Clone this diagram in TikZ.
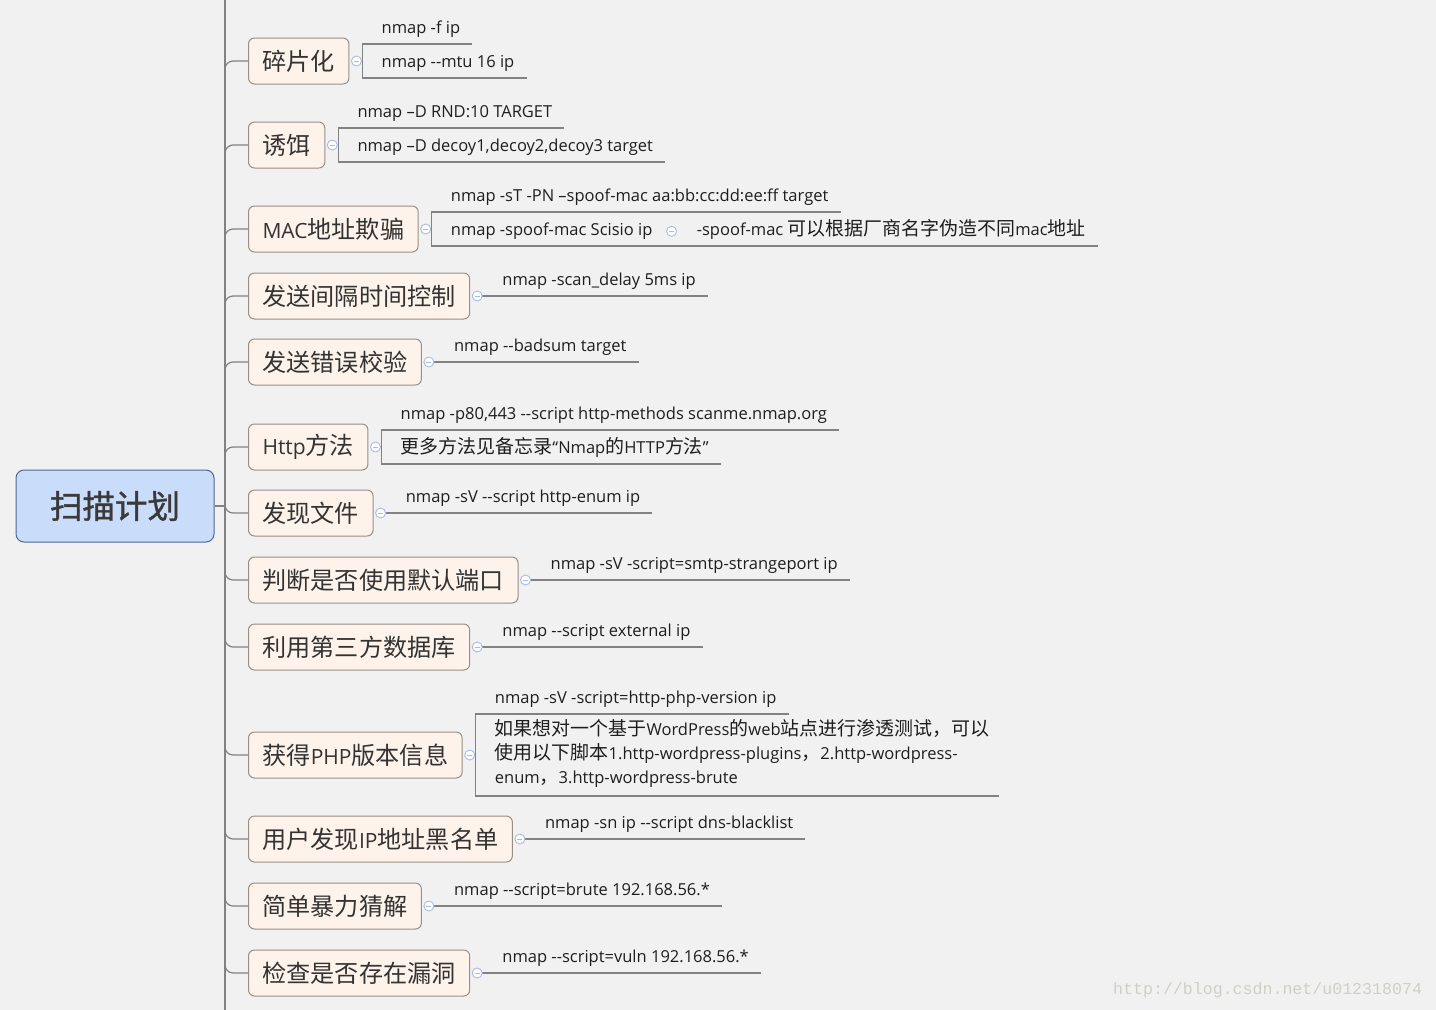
\documentclass[tikz,border=0pt]{standalone}
\usepackage{fontspec}
\setmainfont{Open Sans}[Ligatures=TeXOff]
\newfontfamily\cjkf{Noto Sans CJK SC}[Scale=1.15]
\newfontfamily\cjkroot{Noto Sans CJK SC}[FakeBold=1.2]
\newfontfamily\wmfont{Liberation Mono}
\newcommand\zh[1]{{\cjkf #1}}
\usetikzlibrary{calc}
\definecolor{bgc}{HTML}{F1F1F1}
\definecolor{linec}{HTML}{828282}
\definecolor{rootfill}{HTML}{C9DCFA}
\definecolor{rootdraw}{HTML}{4D6694}
\definecolor{childfill}{HTML}{FDF3EA}
\definecolor{childdraw}{HTML}{988F86}
\definecolor{mkdraw}{HTML}{A8BBE6}
\definecolor{dtc}{HTML}{1E1E1E}
\definecolor{ctc}{HTML}{333333}
\definecolor{roottc}{HTML}{3A3A3A}
\definecolor{wmc}{HTML}{CFCFC8}
\tikzset{
  conn/.style={draw=linec, line width=1.2pt},
  rootn/.style={draw=rootdraw, fill=rootfill, line width=1pt, rounded corners=8pt,
    minimum width=198pt, minimum height=72pt, inner sep=0pt, text=roottc,
    font=\cjkroot\fontsize{32.5}{36}\selectfont},
  child/.style={draw=childdraw, fill=childfill, line width=1pt, rounded corners=6pt,
    minimum height=46pt, inner xsep=14pt, inner ysep=0pt, anchor=west, text=ctc,
    font=\fontsize{21}{26}\selectfont},
  mk/.style={circle, draw=mkdraw, fill=white, line width=0.9pt, minimum size=10pt, inner sep=0pt,
    path picture={\draw[mkdraw, line width=0.9pt] ([xshift=-2.5pt]path picture bounding box.center) -- ([xshift=2.5pt]path picture bounding box.center);}},
  det/.style={anchor=south west, inner xsep=0pt, inner ysep=7pt, text height=11.5pt,
    text depth=3.5pt, text=dtc, font=\fontsize{16.5}{24}\selectfont},
  dettwo/.style={anchor=south west, inner xsep=0pt, inner ysep=8pt, text width=523pt,
    align=left, text=dtc, font=\fontsize{16.5}{24}\selectfont},
}
\begin{document}
\begin{tikzpicture}[x=1pt,y=-1pt]
\useasboundingbox (0,0) rectangle (1436,1010);
\fill[bgc] (0,0) rectangle (1436,1010);

% watermark
\node[anchor=west, inner sep=0pt, text=wmc, font=\wmfont\fontsize{16.6}{20}\selectfont] (wm) at (1113,990) {http://blog.csdn.net/u012318074};

% root and trunk
\node[rootn] (root) at (115,506) {扫描计划};
\coordinate (trunk) at (225,506);
\coordinate (ttop) at (225,0);
\coordinate (tbot) at (225,1010);
\draw[conn] (ttop) -- (tbot);
\draw[conn] (root.east) -- (trunk);

% children
\node[child] (c1) at (248,61) {\zh{碎片化}};
\node[child] (c2) at (248,145) {\zh{诱饵}};
\node[child] (c3) at (248,229) {MAC\zh{地址欺骗}};
\node[child] (c4) at (248,296) {\zh{发送间隔时间控制}};
\node[child] (c5) at (248,362) {\zh{发送错误校验}};
\node[child] (c6) at (248,447) {Http\zh{方法}};
\node[child] (c7) at (248,513) {\zh{发现文件}};
\node[child] (c8) at (248,580) {\zh{判断是否使用默认端口}};
\node[child] (c9) at (248,647) {\zh{利用第三方数据库}};
\node[child] (c10) at (248,755) {\zh{获得}PHP\zh{版本信息}};
\node[child] (c11) at (248,839) {\zh{用户发现}IP\zh{地址黑名单}};
\node[child] (c12) at (248,906) {\zh{简单暴力猜解}};
\node[child] (c13) at (248,973) {\zh{检查是否存在漏洞}};

\foreach \c in {c1,c2,c3,c4,c5,c6,c7,c8,c9,c10,c11,c12,c13}{
  \draw[conn, rounded corners=8pt] (trunk) |- (\c.west);
}

% marker positions
\foreach \i in {1,...,13}{
  \coordinate (k\i) at ($(c\i.east)+(7,0)$);
}

% group 1
\node[det] (a1) at ($(k1)+(6,-17)$) {\hspace*{19pt}nmap -f ip\hspace*{12pt}};
\node[det] (a2) at ($(k1)+(6,17)$) {\hspace*{19pt}nmap --mtu 16 ip\hspace*{12pt}};
\draw[conn] (a1.south east) -- (a1.south west) -- (a2.south west) -- (a2.south east);

% group 2
\node[det] (b1) at ($(k2)+(6,-17)$) {\hspace*{19pt}nmap –D RND:10 TARGET\hspace*{12pt}};
\node[det] (b2) at ($(k2)+(6,17)$) {\hspace*{19pt}nmap –D decoy1,decoy2,decoy3 target\hspace*{12pt}};
\draw[conn] (b1.south east) -- (b1.south west) -- (b2.south west) -- (b2.south east);

% group 3
\node[det] (m1) at ($(k3)+(6,-17)$) {\hspace*{19pt}nmap -sT -PN –spoof-mac aa:bb:cc:dd:ee:ff target\hspace*{12pt}};
\node[det] (m2) at ($(k3)+(6,17)$) {\hspace*{19pt}nmap -spoof-mac Scisio ip\hspace*{14pt}};
\node[det] (m3) at (m2.south east) {\hspace*{30pt}-spoof-mac \zh{可以根据厂商名字伪造不同}mac\zh{地址}\hspace*{12pt}};
\draw[conn] (m1.south east) -- (m1.south west) -- (m2.south west) -- (m2.south east);
\draw[conn] (m2.south east) -- (m3.south east);
\node[mk] (k3b) at ($(m2.east)+(5,0)$) {};

% single groups
\node[det] (d1) at (k4) {\hspace*{25pt}nmap -scan\_delay 5ms ip\hspace*{12pt}};
\node[det] (e1) at (k5) {\hspace*{25pt}nmap --badsum target\hspace*{12pt}};
\node[det] (g1) at (k7) {\hspace*{25pt}nmap -sV --script http-enum ip\hspace*{12pt}};
\node[det] (j1) at (k8) {\hspace*{25pt}nmap -sV -script=smtp-strangeport ip\hspace*{12pt}};
\node[det] (l1) at (k9) {\hspace*{25pt}nmap --script external ip\hspace*{12pt}};
\node[det] (u1) at (k11) {\hspace*{25pt}nmap -sn ip --script dns-blacklist\hspace*{12pt}};
\node[det] (s1) at (k12) {\hspace*{25pt}nmap --script=brute 192.168.56.*\hspace*{12pt}};
\node[det] (v1) at (k13) {\hspace*{25pt}nmap --script=vuln 192.168.56.*\hspace*{12pt}};
\foreach \n in {d1,e1,g1,j1,l1,u1,s1,v1}{
  \draw[conn] (\n.south west) -- (\n.south east);
}

% group 6
\node[det] (h1) at ($(k6)+(6,-17)$) {\hspace*{19pt}nmap -p80,443 --script http-methods scanme.nmap.org\hspace*{12pt}};
\node[det] (h2) at ($(k6)+(6,17)$) {\hspace*{19pt}\zh{更多方法见备忘录}“Nmap\zh{的}HTTP\zh{方法}”\hspace*{12pt}};
\draw[conn] (h1.south east) -- (h1.south west) -- (h2.south west) -- (h2.south east);

% group 10
\node[det] (p1) at ($(k10)+(6,-41)$) {\hspace*{19pt}nmap -sV -script=http-php-version ip\hspace*{12pt}};
\node[dettwo] (p2) at ($(k10)+(6,41)$) {\hspace*{19pt}\zh{如果想对一个基于}WordPress\zh{的}web\zh{站点进行渗透测试，可以}\\
\hspace*{19pt}\zh{使用以下脚本}1.http-wordpress-plugins\zh{，}2.http-wordpress-\\
\hspace*{19pt}enum\zh{，}3.http-wordpress-brute};
\draw[conn] (p1.south east) -- (p1.south west) -- (p2.south west) -- (p2.south east);

% markers on top
\foreach \i in {1,...,13}{
  \node[mk] at (k\i) {};
}
\end{tikzpicture}
\end{document}
